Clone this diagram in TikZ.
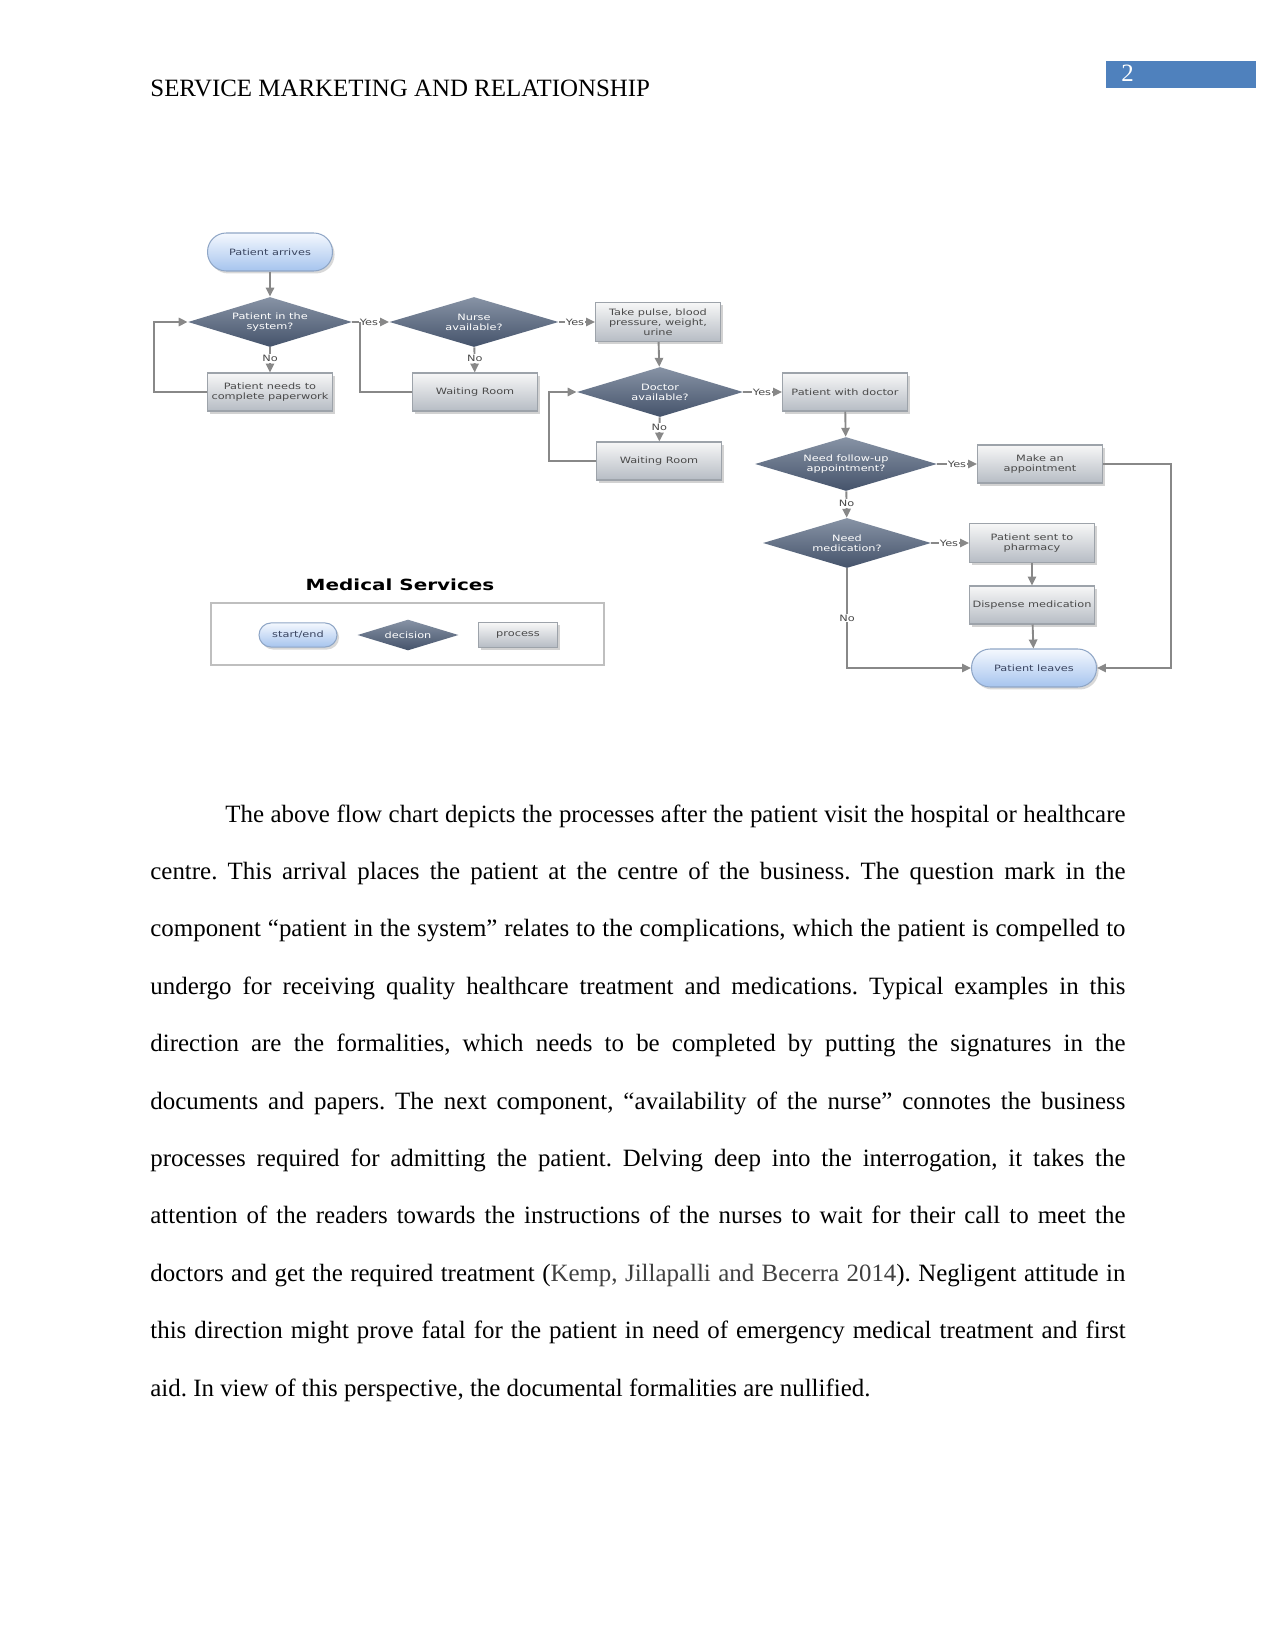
\documentclass[tikz,border=0pt]{standalone}
\usepackage{fontspec}
\setmainfont{Liberation Serif}
\newfontfamily\chartfont[FakeStretch=1.3]{DejaVu Sans}
\usepackage{tikz}
\usetikzlibrary{arrows.meta,shapes.geometric,shadows}
\definecolor{pagebar}{HTML}{4F81BD}
\definecolor{pilltop}{HTML}{F4F8FE}
\definecolor{pillbot}{HTML}{A6C4EE}
\definecolor{pillline}{HTML}{8FA6C6}
\definecolor{pilltext}{HTML}{3A4560}
\definecolor{dectop}{HTML}{8793A5}
\definecolor{decbot}{HTML}{45536B}
\definecolor{boxtop}{HTML}{F7F7F7}
\definecolor{boxbot}{HTML}{B6BCC4}
\definecolor{boxline}{HTML}{9DA3AA}
\definecolor{boxtext}{HTML}{4A4A4A}
\definecolor{linegray}{HTML}{888888}
\definecolor{citegray}{HTML}{404040}
\tikzset{
  chart/.style={font=\chartfont\fontsize{4.2}{4.8}\selectfont, align=center, inner sep=1pt},
  startend/.style={chart, rectangle, rounded corners=9pt, draw=pillline, line width=0.5pt, top color=pilltop, bottom color=pillbot, text=pilltext, minimum width=60.2pt, minimum height=18.3pt, drop shadow={shadow xshift=1pt, shadow yshift=-1.2pt, opacity=0.3}},
  decision/.style={chart, diamond, aspect=3.3, inner sep=0pt, top color=dectop, bottom color=decbot, text=white, minimum width=80pt, minimum height=24.1pt},
  process/.style={chart, rectangle, draw=boxline, line width=0.5pt, top color=boxtop, bottom color=boxbot, text=boxtext, minimum width=60.2pt, minimum height=18.3pt, drop shadow={shadow xshift=1.3pt, shadow yshift=-1.3pt, opacity=0.35}},
  flow/.style={draw=linegray, line width=0.9pt, -{Triangle[length=4.3pt,width=4pt]}},
  flowjoin/.style={draw=linegray, line width=0.9pt},
  yesno/.style={chart, fill=white, inner sep=0.5pt, text=boxtext},
  yeslbl/.style={yesno, pos=1, anchor=east, xshift=-4.3pt},
  nolbl/.style={yesno, pos=1, anchor=south, yshift=4.3pt}
}
\begin{document}
\begin{tikzpicture}[x=0.4818pt,y=-0.4818pt]
\useasboundingbox (0,0) rectangle (1275,1650);
\fill[white] (0,0) rectangle (1275,1650);
% running head
\node[anchor=base west, inner sep=0pt, font=\fontsize{12}{14}\selectfont] (head) at (150,97) {SERVICE MARKETING AND RELATIONSHIP};
\fill[pagebar] (1106,61) rectangle (1256,88);
\node[anchor=base west, inner sep=0pt, text=white, font=\fontsize{12}{14}\selectfont] (pageno) at (1121,82) {2};
% flow chart
\node[startend] (arrive) at (270,252) {Patient arrives};
\node[decision, minimum width=79pt] (insys) at (270,322) {Patient in the\\system?};
\node[process] (paper) at (270,392) {Patient needs to\\complete paperwork};
\node[decision, minimum width=81.5pt] (nurse) at (474,322) {Nurse\\available?};
\node[process] (wait1) at (475,392) {Waiting Room};
\node[process, minimum height=18.8pt] (vitals) at (658,322) {Take pulse, blood\\pressure, weight,\\urine};
\node[decision] (doctor) at (660,392) {Doctor\\available?};
\node[process] (wait2) at (659,461) {Waiting Room};
\node[process] (withdoc) at (845,392) {Patient with doctor};
\node[decision, minimum width=87.7pt, minimum height=26pt] (followup) at (846,464) {Need follow-up\\appointment?};
\node[process] (appt) at (1040,464) {Make an\\appointment};
\node[decision, minimum width=81pt] (medic) at (847,543) {Need\\medication?};
\node[process, minimum height=18.8pt] (pharm) at (1032,543) {Patient sent to\\pharmacy};
\node[process] (dispense) at (1032,605) {Dispense medication};
\node[startend] (leaves) at (1034,668) {Patient leaves};
\coordinate (j1) at (360,322);

\draw[flow] (arrive) -- (insys);
\draw[flow] (insys) -- node[nolbl]{No} (paper);
\draw[flow] (paper.west) -- ++(-53,0) |- (insys.west);
\draw[flow] (insys.east) -- node[yeslbl]{Yes} (nurse.west);
\draw[flowjoin] (wait1.west) -| (j1);
\draw[flow] (nurse) -- node[nolbl]{No} (wait1);
\draw[flow] (nurse.east) -- node[yeslbl]{Yes} (vitals.west);
\draw[flow] (vitals) -- (doctor);
\draw[flow] (doctor) -- node[nolbl]{No} (wait2);
\draw[flow] (wait2.west) -- ++(-47,0) |- (doctor.west);
\draw[flow] (doctor.east) -- node[yeslbl]{Yes} (withdoc.west);
\draw[flow] (withdoc) -- (followup);
\draw[flow] (followup.east) -- node[yeslbl]{Yes} (appt.west);
\draw[flow] (followup) -- node[nolbl]{No} (medic);
\draw[flow] (medic.east) -- node[yeslbl]{Yes} (pharm.west);
\draw[flow] (pharm) -- (dispense);
\draw[flow] (dispense) -- (leaves);
\draw[flow] (medic.south) |- node[yesno, pos=0.25]{No} (leaves.west);
\draw[flow] (appt.east) -- ++(68,0) |- (leaves.east);
% legend
\node[chart, font=\chartfont\bfseries\fontsize{7.4}{8}\selectfont] (legtitle) at (400,585) {Medical Services};
\draw[draw=black!25, line width=0.6pt] (211,603) rectangle (604,665);
\node[startend, rounded corners=5.8pt, minimum width=37.6pt, minimum height=11.6pt] (lstart) at (298,635) {start/end};
\node[decision, minimum width=48.7pt, minimum height=14.9pt] (ldec) at (408,635) {decision};
\node[process, minimum width=38pt, minimum height=11.8pt] (lproc) at (518,635) {process};
% body text
\node[anchor=base west, inner sep=0pt, text width=469.8pt, align=justify, font=\fontsize{12}{27.66}\selectfont] (body) at (150,822) {\frenchspacing\hyphenpenalty=10000\hspace*{36.1pt}The above flow chart depicts the processes after the patient visit the hospital or healthcare\linebreak
centre. This arrival places the patient at the centre of the business. The question mark in the\linebreak
component “patient in the system” relates to the complications, which the patient is compelled to\linebreak
undergo for receiving quality healthcare treatment and medications. Typical examples in this\linebreak
direction are the formalities, which needs to be completed by putting the signatures in the\linebreak
documents and papers. The next component, “availability of the nurse” connotes the business\linebreak
processes required for admitting the patient. Delving deep into the interrogation, it takes the\linebreak
attention of the readers towards the instructions of the nurses to wait for their call to meet the\linebreak
doctors and get the required treatment ({\color{citegray}Kemp, Jillapalli and Becerra 2014}). Negligent attitude in\linebreak
this direction might prove fatal for the patient in need of emergency medical treatment and first\linebreak
aid. In view of this perspective, the documental formalities are nullified.};
\end{tikzpicture}
\end{document}
